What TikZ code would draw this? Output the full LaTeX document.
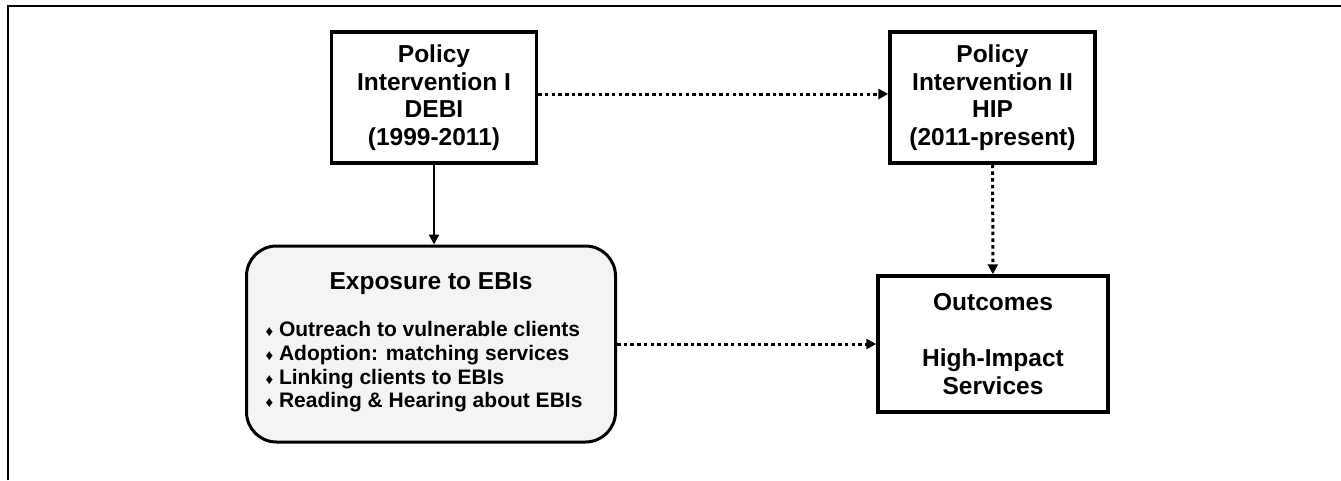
\documentclass[tikz,border=0pt]{standalone}
\usepackage{fontspec}
\setmainfont{Liberation Sans}
\usetikzlibrary{arrows.meta}
\newcommand{\dmd}{{\fontsize{15}{15}\selectfont\char"2666}\ }
\begin{document}
\begin{tikzpicture}[
            x=1pt,
            y=-1pt,
            font=\bfseries\fontsize{24.5}{27.5}\selectfont,
            box/.style={draw, line width=3.4pt, align=center, minimum width=205pt, minimum height=131pt, inner sep=0pt},
            outbox/.style={box, minimum width=230pt, minimum height=136pt},
            expbox/.style={draw, line width=3pt, fill=gray!9, rounded corners=30pt, align=center, minimum width=369pt, minimum height=196pt, inner sep=0pt},
            solidlink/.style={line width=2.4pt, -{Triangle[length=10pt,width=10pt]}},
            dotlink/.style={solidlink, line width=3pt, dash pattern=on 3.5pt off 3.2pt}
        ]
        \useasboundingbox (0,0) rectangle (1341,480);
        \draw[line width=2pt] (8,480) -- (8,6) -- (1341,6);

        \node[box] (pol1) at (434,97.5) {Policy\\Intervention I\\DEBI\\(1999-2011)};
        \node[box] (pol2) at (992.5,97.5) {Policy\\Intervention II\\HIP\\(2011-present)};
        \node[expbox] (expo) at (431,344) {Exposure to EBIs\\[24pt]
            {\fontsize{21}{23.7}\selectfont\begin{tabular}{@{}l@{\hspace{14pt}}}
                \dmd Outreach to vulnerable clients\\
                \dmd Adoption: matching services\\
                \dmd Linking clients to EBIs\\
                \dmd Reading \& Hearing about EBIs
            \end{tabular}}};
        \node[outbox] (outc) at (993,344) {Outcomes\\[29pt]High-Impact\\Services};

        \draw[solidlink] (pol1) -- (pol1 |- expo.north);
        \draw[dotlink] ([yshift=3.5pt]pol1.east) -- ([yshift=3.5pt]pol2.west);
        \draw[dotlink] (pol2) -- (outc);
        \draw[dotlink] (expo) -- (outc);

    \end{tikzpicture}
\end{document}
